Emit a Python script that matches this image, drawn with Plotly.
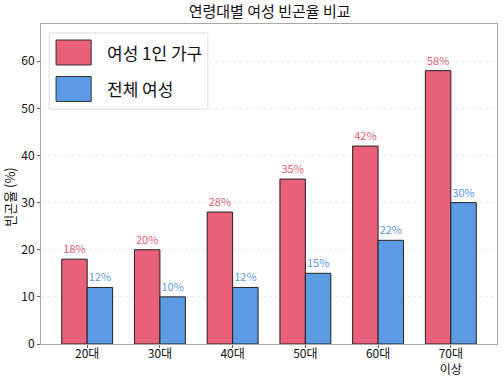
import plotly.graph_objects as go

categories = ["20대", "30대", "40대", "50대", "60대", "70대<br>이상"]
single_women = [18, 20, 28, 35, 42, 58]
all_women = [12, 10, 12, 15, 22, 30]
series_names = ["여성 1인 가구", "전체 여성"]
y_ticks = [0, 10, 20, 30, 40, 50, 60]

RED = "#E9607A"
BLUE = "#5C9AE3"
FONT = "Noto Sans CJK KR"

x = list(range(len(categories)))

fig = go.Figure()
fig.add_trace(go.Bar(
    x=x, y=single_women, name=series_names[0],
    marker=dict(color=RED, line=dict(color="#222222", width=1)),
    text=[f"{v}%" for v in single_women], textposition="outside",
    outsidetextfont=dict(color=RED, size=11, family=FONT), cliponaxis=False,
))
fig.add_trace(go.Bar(
    x=x, y=all_women, name=series_names[1],
    marker=dict(color=BLUE, line=dict(color="#222222", width=1)),
    text=[f"{v}%" for v in all_women], textposition="outside",
    outsidetextfont=dict(color=BLUE, size=11, family=FONT), cliponaxis=False,
))

# manual legend (large patches like the reference)
leg_items = [(series_names[0], RED), (series_names[1], BLUE)]
shapes = [dict(type="rect", xref="paper", yref="paper",
               x0=0.018, x1=0.366, y0=0.734, y1=0.972,
               fillcolor="rgba(255,255,255,0.9)", line=dict(color="#dddddd", width=1),
               layer="above")]
annotations = []
for i, (name, col) in enumerate(leg_items):
    yc = 0.911 - i * 0.114
    shapes.append(dict(type="rect", xref="paper", yref="paper",
                       x0=0.033, x1=0.110, y0=yc - 0.039, y1=yc + 0.039,
                       fillcolor=col, line=dict(color="#333333", width=1), layer="above"))
    annotations.append(dict(xref="paper", yref="paper", x=0.140, y=yc, text=name,
                            showarrow=False, xanchor="left", yanchor="middle",
                            font=dict(size=17, color="#111111", family=FONT)))

# y-axis title placed manually
annotations.append(dict(xref="paper", yref="paper", x=-0.068, y=0.46,
                        text="빈곤율 (%)", textangle=-90, showarrow=False,
                        xanchor="center", yanchor="middle",
                        font=dict(size=13, color="#111111", family=FONT)))

fig.update_layout(
    width=504, height=378,
    margin=dict(l=41, r=7, t=24, b=34),
    paper_bgcolor="white", plot_bgcolor="white",
    barmode="group", bargap=0.3, bargroupgap=0,
    showlegend=False,
    font=dict(family=FONT, color="#111111"),
    title=dict(text="연령대별 여성 빈곤율 비교", x=0.535, xanchor="center",
               y=0.968, yanchor="middle", font=dict(size=15, family=FONT)),
    shapes=shapes, annotations=annotations,
    xaxis=dict(range=[-0.635, 5.635], tickvals=x, ticktext=categories,
               tickfont=dict(size=12), showgrid=False, ticks="outside", ticklen=3,
               tickcolor="#666", showline=True, linecolor="#aaaaaa", mirror=True,
               zeroline=False, automargin=False, ticklabelstandoff=-4),
    yaxis=dict(range=[0, 67.9], tickvals=y_ticks, tickfont=dict(size=12),
               showgrid=True, gridcolor="#ececec", griddash="dot",
               ticks="outside", ticklen=3, tickcolor="#666",
               showline=True, linecolor="#aaaaaa", mirror=True, zeroline=False,
               automargin=False),
)

fig.write_html("out.html", config={"displayModeBar": False},
               post_script="document.body.style.margin='0';document.body.style.overflow='hidden';")
